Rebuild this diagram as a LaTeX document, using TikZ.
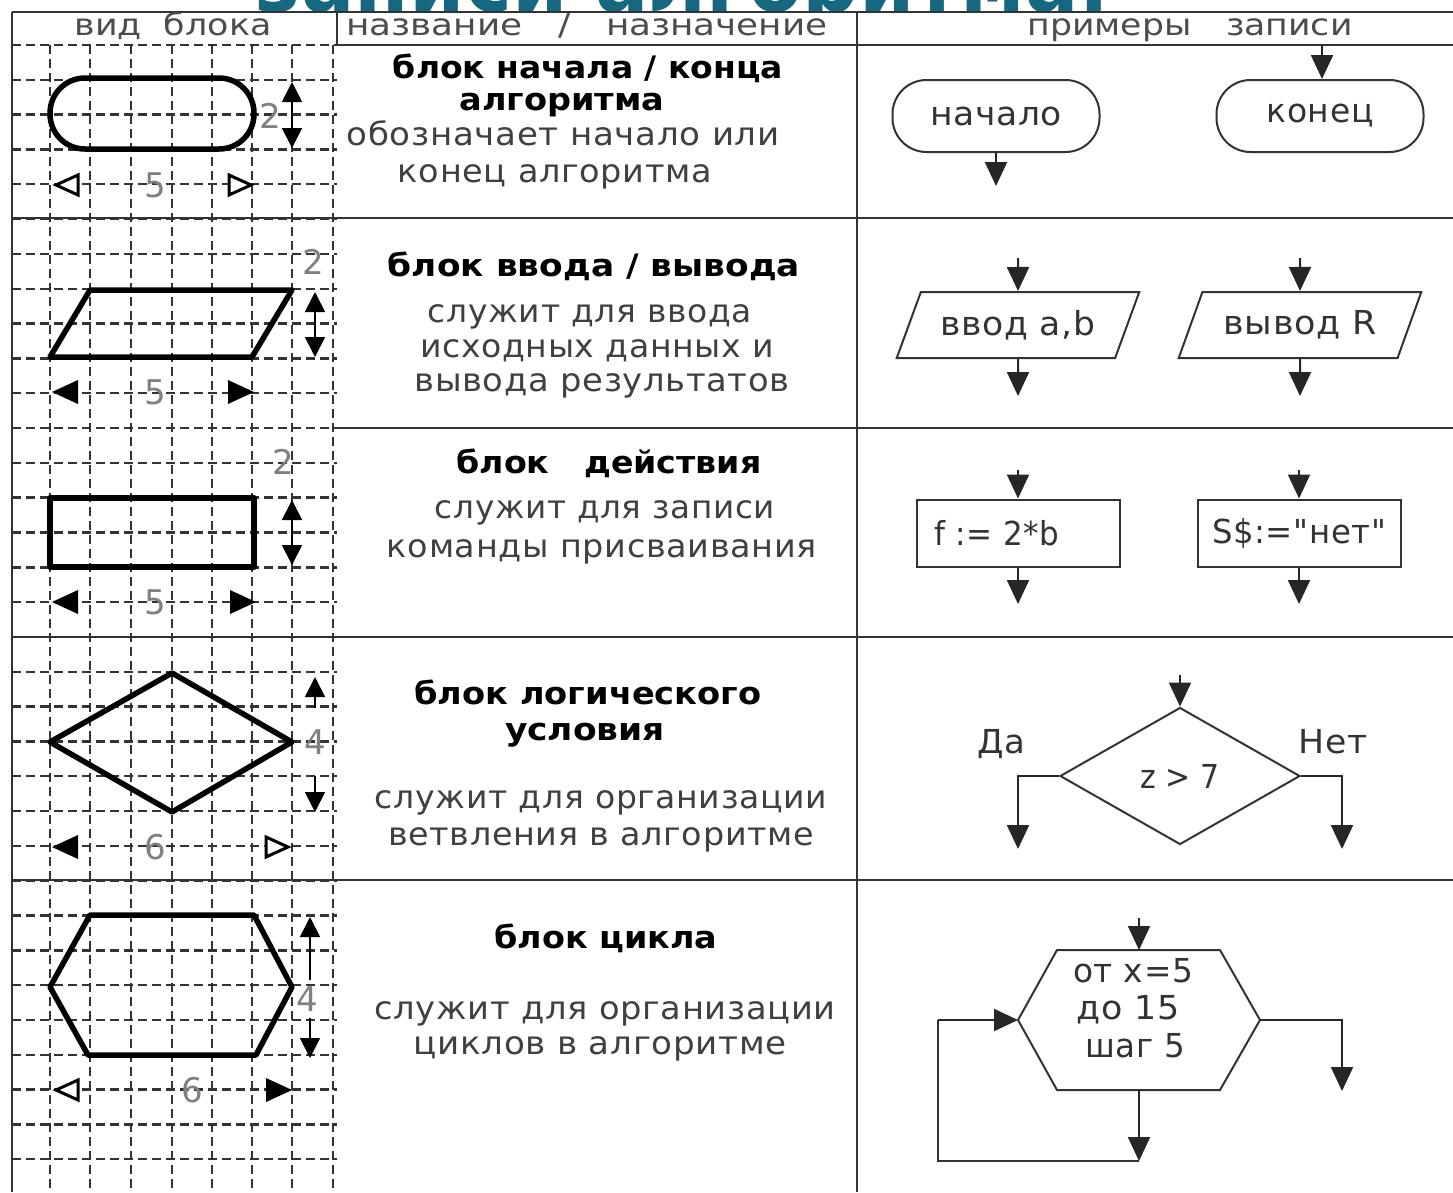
\documentclass[tikz,border=0pt]{standalone}
\usepackage{fontspec}
\usepackage{graphicx}
\setmainfont{DejaVu Sans}
\newfontfamily\txtfont[LetterSpace=2]{DejaVu Sans}
\newfontfamily\boldfont{DejaVu Sans Bold}
\newfontfamily\plainfont{DejaVu Sans}
\usetikzlibrary{arrows.meta,shapes.geometric}
\definecolor{titleteal}{RGB}{22,104,128}
% set a text to a given width (in pt) without changing its height
\newcommand\fitw[2]{\resizebox{#1pt}{\height}{#2}}
\newcommand\dsc{\txtfont\fontsize{32}{38}\selectfont}
\newcommand\dsb{\boldfont\fontsize{31}{36}\selectfont}
\newcommand\hdf{\plainfont\fontsize{30}{34}\selectfont}
\newcommand\exf{\txtfont\fontsize{33}{38}\selectfont}
\newcommand\dmf{\plainfont\fontsize{34}{36}\selectfont}

\begin{document}
\begin{tikzpicture}[x=1pt,y=-1pt,
  gridline/.style={line width=2.4pt, black!80, dash pattern=on 9pt off 5pt},
  rule/.style={line width=2.5pt, black!80},
  fig/.style={line width=5.5pt, black, line join=round},
  dimv/.style={line width=1.8pt, black, {Triangle[length=20pt,width=20pt]}-{Triangle[length=20pt,width=20pt]}},
  dimtip/.style={line width=1.8pt, black, -{Triangle[length=20pt,width=20pt]}},
  dimlbl/.style={inner sep=0pt, text=black!50, font=\dmf},
  head/.style={anchor=base, inner sep=0pt, text=black!70},
  desc/.style={anchor=base, inner sep=0pt, text=black!75},
  descb/.style={anchor=base, inner sep=0pt, text=black},
  exline/.style={draw=black!80, line width=2pt},
  term/.style={exline, rectangle, rounded corners=34pt, minimum width=207pt, minimum height=72pt, inner sep=0pt, text=black!80},
  io/.style={exline, trapezium, trapezium left angle=57, trapezium right angle=123, trapezium stretches=true, minimum width=243pt, minimum height=66pt, inner sep=0pt, text=black!80},
  proc/.style={exline, rectangle, minimum width=203pt, minimum height=67pt, inner sep=0pt, text=black!80},
  decision/.style={exline, diamond, minimum width=240pt, minimum height=137pt, inner sep=0pt, text=black!80},
  extext/.style={inner sep=0pt, text=black!80},
  flow/.style={draw=black!85, line width=2pt, -{Triangle[length=24pt,width=22pt]}},
  openhead/.style={fill=white, draw=black, line width=3pt, line join=miter}
]
\useasboundingbox (0,0) rectangle (1453,1192);
\fill[white] (0,0) rectangle (1453,1192);

% slide title, hidden behind the table except for its lower edge
\begin{scope}
  \clip (0,0) rectangle (1453,12);
  \node[anchor=base, inner sep=0pt, text=titleteal] (title) at (683,11)
    {\fitw{855}{\fontsize{90}{100}\selectfont\bfseries записи алгоритма:}};
\end{scope}

% ---------- squared paper of the first column ----------
\foreach \gx in {50,90,131,172,212,252,292,333}
  \draw[gridline] (\gx,45) -- (\gx,1192);
\foreach \k in {0,...,32}
  \draw[gridline] (12,{45+34.82*\k}) -- (337,{45+34.82*\k});

% ---------- table rules ----------
\draw[rule] (12,12) -- (1453,12);
\draw[rule] (12,12) -- (12,1192);
\draw[rule] (337,12) -- (337,45);
\draw[rule] (857,12) -- (857,1192);
\draw[rule] (337,45) -- (1453,45);
\draw[rule] (12,218) -- (1453,218);
\draw[rule] (337,428) -- (1453,428);
\draw[rule] (12,637) -- (1453,637);
\draw[rule] (12,880) -- (1453,880);

% ---------- header ----------
\node[head] (hview) at (173,35) {\fitw{197}{\hdf вид\ \ блока}};
\node[head] (hname) at (587,35) {\fitw{481}{\hdf название\quad /\quad назначение}};
\node[head] (hexmp) at (1190,35) {\fitw{325}{\hdf примеры\quad записи}};

% ---------- block shapes drawn on the grid ----------
\draw[fig, rounded corners=35pt] (50,78) rectangle (254,149);
\draw[fig] (50,357) -- (90,290) -- (292,290) -- (252,357) -- cycle;
\draw[fig] (50,498) rectangle (254,567);
\draw[fig] (50,742) -- (172,673) -- (292,742) -- (172,812) -- cycle;
\draw[fig] (50,987) -- (90,915) -- (254,915) -- (292,987) -- (256,1055) -- (88,1055) -- cycle;

% heights
\draw[line width=1.8pt] (292,100) -- (292,130);
\draw[dimv] (292,82) -- (292,148);
\node[dimlbl] (h1) at (270,116) {2};
\draw[dimv] (315,292) -- (315,357);
\node[dimlbl] (h2) at (313,262) {2};
\draw[dimv] (292,500) -- (292,565);
\node[dimlbl] (h3) at (283,462) {2};
\draw[dimtip] (315,708) -- (315,677);
\draw[dimtip] (315,776) -- (315,812);
\node[dimlbl] (h4) at (315,742) {4};
\draw[dimtip] (310,980) -- (310,917);
\draw[dimtip] (310,1018) -- (310,1058);
\node[dimlbl] (h5) at (307,999) {4};

% widths
\filldraw[openhead] (56,185) -- (78,175) -- (78,195) -- cycle;
\filldraw[openhead] (251,185) -- (229,175) -- (229,195) -- cycle;
\node[dimlbl] (w1) at (155,185) {5};
\fill (52,392) -- (78,380) -- (78,404) -- cycle;
\fill (254,392) -- (228,380) -- (228,404) -- cycle;
\node[dimlbl] (w2) at (155,392) {5};
\fill (52,602) -- (78,590) -- (78,614) -- cycle;
\fill (256,602) -- (230,590) -- (230,614) -- cycle;
\node[dimlbl] (w3) at (155,602) {5};
\fill (52,847) -- (78,835) -- (78,859) -- cycle;
\filldraw[openhead] (288,847) -- (266,837) -- (266,857) -- cycle;
\node[dimlbl] (w4) at (155,847) {6};
\filldraw[openhead] (56,1090) -- (78,1080) -- (78,1100) -- cycle;
\fill (292,1090) -- (266,1078) -- (266,1102) -- cycle;
\node[dimlbl] (w5) at (192,1090) {6};

% ---------- names and purposes ----------
\node[descb] (t1a) at (588,78)  {\fitw{390}{\dsb блок начала / конца}};
\node[descb] (t1b) at (562,110) {\fitw{205}{\dsb алгоритма}};
\node[desc]  (t1c) at (563,145) {\fitw{433}{\dsc обозначает начало или}};
\node[desc]  (t1d) at (555,182) {\fitw{314}{\dsc конец алгоритма}};

\node[descb] (t2a) at (594,276) {\fitw{412}{\dsb блок ввода / вывода}};
\node[desc]  (t2b) at (590,322) {\fitw{324}{\dsc служит для ввода}};
\node[desc]  (t2c) at (597,357) {\fitw{354}{\dsc исходных данных и}};
\node[desc]  (t2d) at (602,391) {\fitw{375}{\dsc вывода результатов}};

\node[descb] (t3a) at (609,473) {\fitw{305}{\dsb блок\ \ \ действия}};
\node[desc]  (t3b) at (605,518) {\fitw{340}{\dsc служит для записи}};
\node[desc]  (t3c) at (602,557) {\fitw{430}{\dsc команды присваивания}};

\node[descb] (t4a) at (588,704) {\fitw{347}{\dsb блок логического}};
\node[descb] (t4b) at (585,740) {\fitw{160}{\dsb условия}};
\node[desc]  (t4c) at (601,808) {\fitw{452}{\dsc служит для организации}};
\node[desc]  (t4d) at (601,845) {\fitw{426}{\dsc ветвления в алгоритме}};

\node[descb] (t5a) at (606,948)  {\fitw{223}{\dsb блок цикла}};
\node[desc]  (t5b) at (605,1019) {\fitw{461}{\dsc служит для организации}};
\node[desc]  (t5c) at (600,1054) {\fitw{373}{\dsc циклов в алгоритме}};

% ---------- examples ----------
% start / end
\node[term] (beg) at (996,116) {\fitw{132}{\exf начало}};
\node[term] (fin) at (1320,116) {\fitw{107}{\exf конец}};
\coordinate (finIn) at (1322,45);
\coordinate (begOut) at (996,186);
\draw[flow] (finIn) -- (fin.north -| finIn);
\draw[flow] (beg.south) -- (begOut);

% input / output
\node[io] (inp) at (1018,325) {\fitw{155}{\exf ввод a,b}};
\node[io] (outp) at (1300,325) {\fitw{153}{\exf вывод R}};
\coordinate (inpIn) at (1018,258);
\coordinate (inpOut) at (1018,396);
\coordinate (outpIn) at (1300,258);
\coordinate (outpOut) at (1300,396);
\draw[flow] (inpIn) -- (inp.north);
\draw[flow] (inp.south) -- (inpOut);
\draw[flow] (outpIn) -- (outp.north);
\draw[flow] (outp.south) -- (outpOut);

% action
\node[proc] (act1) at (1018,533) {};
\node[extext] (act1t) at (997,533) {\fitw{125}{\exf f := 2*b}};
\node[proc] (act2) at (1299,533) {\fitw{174}{\exf S\$:="нет"}};
\coordinate (act1In) at (1018,470);
\coordinate (act1Out) at (1018,604);
\coordinate (act2In) at (1299,470);
\coordinate (act2Out) at (1299,604);
\draw[flow] (act1In) -- (act1.north);
\draw[flow] (act1.south) -- (act1Out);
\draw[flow] (act2In) -- (act2.north);
\draw[flow] (act2.south) -- (act2Out);

% condition
\node[decision] (cond) at (1180,776) {\fitw{80}{\exf z > 7}};
\coordinate (condIn) at (1180,675);
\coordinate (yesEnd) at (1018,849);
\coordinate (noEnd) at (1342,849);
\draw[flow] (condIn) -- (cond.north);
\draw[flow] (cond.west) -| (yesEnd);
\draw[flow] (cond.east) -| (noEnd);
\node[extext, anchor=base] (yes) at (1001,753) {\fitw{48}{\exf Да}};
\node[extext, anchor=base] (no) at (1333,753) {\fitw{69}{\exf Нет}};

% loop
\coordinate (hW)  at (1018,1020);
\coordinate (hNW) at (1057,950);
\coordinate (hN)  at (1139,950);
\coordinate (hNE) at (1220,950);
\coordinate (hE)  at (1260,1020);
\coordinate (hSE) at (1220,1090);
\coordinate (hS)  at (1139,1090);
\coordinate (hSW) at (1057,1090);
\draw[exline, line join=miter] (hW) -- (hNW) -- (hNE) -- (hE) -- (hSE) -- (hSW) -- cycle;
\node[extext, anchor=base] (cyc1) at (1133,982)  {\fitw{120}{\exf от x=5}};
\node[extext, anchor=base] (cyc2) at (1128,1019) {\fitw{103}{\exf до 15}};
\node[extext, anchor=base] (cyc3) at (1135,1057) {\fitw{100}{\exf шаг 5}};
\coordinate (loopIn) at (1139,918);
\coordinate (loopB) at (1139,1161);
\coordinate (loopBL) at (938,1161);
\coordinate (loopTL) at (938,1020);
\coordinate (loopExit) at (1342,1091);
\draw[flow] (loopIn) -- (hN);
\draw[flow] (hS) -- (loopB);
\draw[exline] (loopB) -- (loopBL) -- (loopTL);
\draw[flow] (loopTL) -- (hW);
\draw[flow] (hE) -| (loopExit);
\end{tikzpicture}
\end{document}
